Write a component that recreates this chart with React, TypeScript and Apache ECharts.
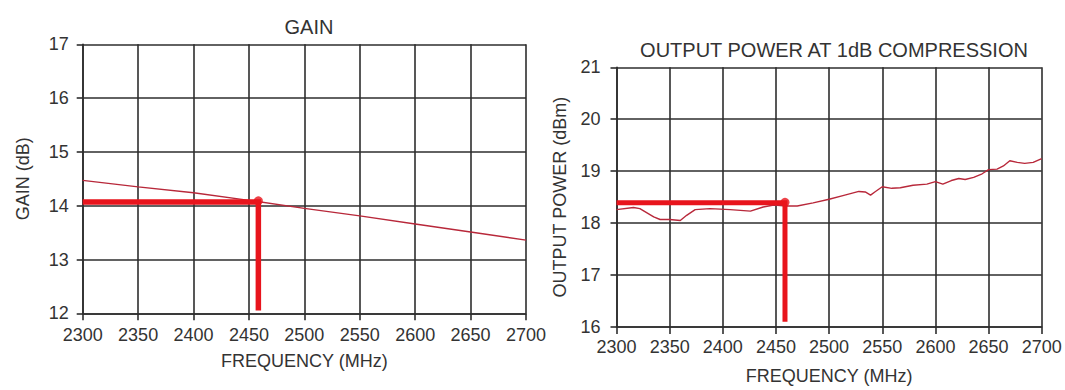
import React, { useEffect, useRef } from "react";
import * as echarts from "echarts";

// Frequency axis (MHz)
const freqTicks = [2300, 2350, 2400, 2450, 2500, 2550, 2600, 2650, 2700];

// GAIN chart (dB)
const gainFreq = [2300, 2350, 2400, 2450, 2500, 2550, 2600, 2650, 2700];
const gainValues = [14.47, 14.35, 14.24, 14.1, 13.95, 13.81, 13.66, 13.51, 13.36];
const gainMarkerFreq = 2458.5;
const gainMarkerValue = 14.07;
const gainMarkerBottom = 12.05;

// OUTPUT POWER AT 1dB COMPRESSION chart (dBm)
const powerFreq = [
  2300, 2316, 2322, 2335, 2341, 2350, 2360, 2366, 2374, 2388, 2407, 2426, 2438, 2448,
  2460, 2470, 2485, 2500, 2513, 2528, 2534, 2539, 2543, 2550, 2559, 2567, 2579, 2592,
  2600, 2607, 2615, 2622, 2628, 2636, 2644, 2650, 2658, 2664, 2670, 2677, 2684, 2692, 2700,
];
const powerValues = [
  18.26, 18.3, 18.28, 18.12, 18.07, 18.07, 18.05, 18.15, 18.26, 18.28, 18.26, 18.23, 18.31, 18.35,
  18.33, 18.33, 18.39, 18.46, 18.53, 18.61, 18.6, 18.54, 18.6, 18.7, 18.67, 18.68, 18.73, 18.75,
  18.8, 18.75, 18.82, 18.86, 18.84, 18.88, 18.95, 19.03, 19.04, 19.1, 19.2, 19.17, 19.15, 19.17, 19.24,
];
const powerMarkerFreq = 2458.5;
const powerMarkerValue = 18.39;
const powerMarkerBottom = 16.1;

const FONT = "'Liberation Sans', Arial, Helvetica, sans-serif";
const TEXT = "#333333";
const GRID = "#2e2e2e";
const THIN_RED = "#b8283a";
const BRIGHT_RED = "#e8141c";

function xAxisCfg(gridIndex: number, labelMargin: number, nameGap: number) {
  return {
    type: "value",
    gridIndex,
    min: freqTicks[0],
    max: freqTicks[freqTicks.length - 1],
    interval: 50,
    name: "FREQUENCY (MHz)",
    nameLocation: "middle",
    nameGap,
    nameTextStyle: { fontFamily: FONT, fontSize: 18, color: TEXT },
    axisLine: { show: true, lineStyle: { color: GRID, width: 1.6 } },
    axisTick: { show: true, length: 7, inside: false, lineStyle: { color: GRID, width: 1.6 } },
    axisLabel: {
      fontFamily: FONT,
      fontSize: 18,
      color: TEXT,
      margin: labelMargin,
      formatter: (v: number) => String(v),
    },
    splitLine: { show: true, lineStyle: { color: GRID, width: 1.6 } },
  };
}

function yAxisCfg(gridIndex: number, min: number, max: number, name: string, nameGap: number, labelMargin: number) {
  return {
    type: "value",
    gridIndex,
    min,
    max,
    interval: 1,
    name,
    nameLocation: "middle",
    nameGap,
    nameTextStyle: { fontFamily: FONT, fontSize: 18, color: TEXT },
    axisLine: { show: true, lineStyle: { color: GRID, width: 1.6 } },
    axisTick: { show: true, length: 6, inside: false, lineStyle: { color: GRID, width: 1.6 } },
    axisLabel: {
      fontFamily: FONT,
      fontSize: 18,
      color: TEXT,
      margin: labelMargin,
      formatter: (v: number) => String(v),
    },
    splitLine: { show: true, lineStyle: { color: GRID, width: 1.6 } },
  };
}

export default function App() {
  const ref = useRef<HTMLDivElement>(null);

  useEffect(() => {
    if (!ref.current) return;
    const chart = echarts.init(ref.current, null, { renderer: "svg" });
    const gainData = gainFreq.map((f, i) => [f, gainValues[i]]);
    const powerData = powerFreq.map((f, i) => [f, powerValues[i]]);

    chart.setOption({
      animation: false,
      backgroundColor: "#ffffff",
      title: [
        {
          text: "GAIN",
          left: 304,
          top: 12,
          textAlign: "center",
          textStyle: { fontFamily: FONT, fontSize: 20, fontWeight: "normal", color: TEXT },
        },
        {
          text: "OUTPUT POWER AT 1dB COMPRESSION",
          left: 829,
          top: 35,
          textAlign: "center",
          textStyle: { fontFamily: FONT, fontSize: 20, fontWeight: "normal", color: TEXT },
        },
      ],
      grid: [
        { left: 82.7, top: 44.3, width: 443.3, height: 269 },
        { left: 616.5, top: 67.3, width: 425.2, height: 262 },
      ],
      xAxis: [xAxisCfg(0, 13, 39), xAxisCfg(1, 11, 40)],
      yAxis: [
        yAxisCfg(0, 12, 17, "GAIN (dB)", 51, 14),
        yAxisCfg(1, 16, 21, "OUTPUT POWER (dBm)", 48, 16),
      ],
      series: [
        {
          type: "line",
          xAxisIndex: 0,
          yAxisIndex: 0,
          data: gainData,
          showSymbol: false,
          lineStyle: { color: THIN_RED, width: 1.4 },
          z: 3,
        },
        {
          type: "line",
          xAxisIndex: 0,
          yAxisIndex: 0,
          data: [
            [freqTicks[0], gainMarkerValue],
            [gainMarkerFreq, gainMarkerValue],
            [gainMarkerFreq, gainMarkerBottom],
          ],
          showSymbol: false,
          lineStyle: { color: BRIGHT_RED, width: 5.5, cap: "butt", join: "miter" },
          z: 4,
        },
        {
          type: "scatter",
          xAxisIndex: 0,
          yAxisIndex: 0,
          data: [[gainMarkerFreq, gainMarkerValue + 0.02]],
          symbolSize: 9,
          itemStyle: { color: BRIGHT_RED },
          z: 5,
        },
        {
          type: "line",
          xAxisIndex: 1,
          yAxisIndex: 1,
          data: powerData,
          showSymbol: false,
          lineStyle: { color: THIN_RED, width: 1.4 },
          z: 3,
        },
        {
          type: "line",
          xAxisIndex: 1,
          yAxisIndex: 1,
          data: [
            [freqTicks[0], powerMarkerValue],
            [powerMarkerFreq, powerMarkerValue],
            [powerMarkerFreq, powerMarkerBottom],
          ],
          showSymbol: false,
          lineStyle: { color: BRIGHT_RED, width: 5, cap: "butt", join: "miter" },
          z: 4,
        },
        {
          type: "scatter",
          xAxisIndex: 1,
          yAxisIndex: 1,
          data: [[powerMarkerFreq, powerMarkerValue + 0.01]],
          symbolSize: 9,
          itemStyle: { color: BRIGHT_RED },
          z: 5,
        },
      ],
    });
    return () => chart.dispose();
  }, []);

  return (
    <div
      ref={ref}
      style={{ position: "absolute", left: 0, top: 0, width: 1065, height: 390 }}
    />
  );
}
